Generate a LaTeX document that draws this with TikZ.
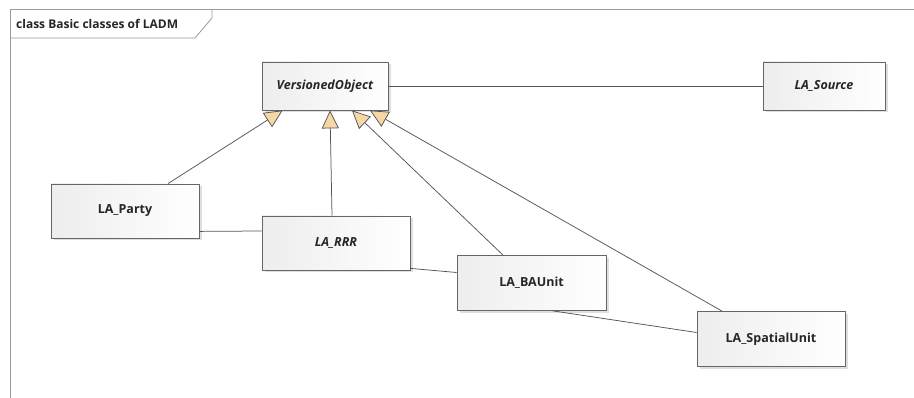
\documentclass[tikz,border=0pt]{standalone}
\usepackage{fontspec}
\setmainfont{Open Sans}
\usetikzlibrary{arrows.meta,shadows,calc}
\definecolor{arrowfill}{HTML}{F8D7A6}
\definecolor{linegray}{HTML}{555555}
\definecolor{boxedge}{HTML}{666666}
\definecolor{framegray}{HTML}{9A9A9A}
\tikzset{
  cls/.style={draw=boxedge, line width=0.8pt, left color=gray!14, right color=white,
    drop shadow={shadow xshift=2.5pt, shadow yshift=-2.5pt, fill=gray!35, opacity=0.7},
    inner sep=0pt, minimum height=54pt, minimum width=148pt,
    font=\fontsize{12.5}{14}\selectfont\bfseries, text=black!85},
  abs/.style={cls, font=\fontsize{12.5}{14}\selectfont\bfseries\itshape},
  assoc/.style={draw=linegray, line width=0.75pt},
  gen/.style={draw=linegray, line width=0.75pt, -{Triangle[length=18pt,width=17pt,fill=arrowfill]}},
  framestyle/.style={draw=framegray, line width=0.8pt}
}
\begin{document}
\begin{tikzpicture}[x=1pt,y=-1pt]
\useasboundingbox[fill=white] (0,0) rectangle (914,398);
% frame
\draw[framestyle] (10,398) -- (10,9) -- (914,9);
\draw[framestyle] (10,38) -- (195,38) -- (212,18) -- (212,9);
\node[anchor=west, inner sep=0pt, font=\fontsize{12}{14}\selectfont\bfseries, text=black!85] (title) at (16,24) {class Basic classes of LADM};
% classes
\node[abs, minimum width=126pt, minimum height=48pt] (vo) at (325,86) {VersionedObject};
\node[abs, minimum width=122pt, minimum height=48pt] (src) at (824,86) {LA\_Source};
\node[cls] (party) at (125,211) {LA\_Party};
\node[abs] (rrr) at (336,243) {LA\_RRR};
\node[cls, minimum width=149pt, minimum height=55pt] (ba) at (531.5,283) {LA\_BAUnit};
\node[cls, minimum height=55pt] (su) at (771,339) {LA\_SpatialUnit};
% associations
\draw[assoc] (vo.east) -- (src.west);
\draw[assoc] ($(party.south east)+(0,-7)$) -- ($(rrr.west)+(0,-12)$);
\draw[assoc] ($(rrr.south east)+(0,-2)$) -- ($(ba.west)+(0,-10.5)$);
\draw[assoc] ($(ba.south)+(21.5,0)$) -- ($(su.west)+(0,-6.5)$);
% generalizations
\draw[gen] ($(party.north)+(43,0)$) -- ($(vo.south west)+(21,0)$);
\draw[gen] ($(rrr.north)+(-4,0)$) -- ($(vo.south)+(5,0)$);
\draw[gen] ($(ba.north)+(-28.5,0)$) -- ($(vo.south)+(27,0)$);
\draw[gen] ($(su.north)+(-49,0)$) -- ($(vo.south)+(45,0)$);
\end{tikzpicture}
\end{document}
